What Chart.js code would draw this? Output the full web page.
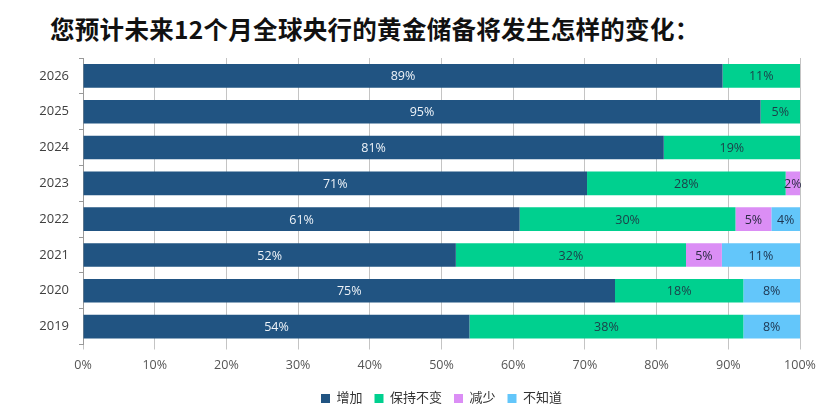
<!DOCTYPE html>
<html>
<head>
<meta charset="utf-8">
<script src="https://cdn.jsdelivr.net/npm/chart.js@4"></script>
<style>
  html, body { margin: 0; padding: 0; background: #fff; }
  #wrap { position: relative; width: 831px; height: 410px; }
  #title {
    position: absolute; left: 50px; top: 14px;
    font: bold 24.5px "Noto Sans CJK SC", sans-serif; color: #111;
    line-height: 1.2; white-space: nowrap; letter-spacing: 0.3px;
  }
  canvas { position: absolute; left: 0; top: 0; }
</style>
</head>
<body>
<div id="wrap">
  <div id="title">您预计未来12个月全球央行的黄金储备将发生怎样的变化：</div>
  <canvas id="c" width="831" height="410"></canvas>
</div>
<script>
// years, top to bottom
const years = ['2026', '2025', '2024', '2023', '2022', '2021', '2020', '2019'];

// bar lengths (share of respondents, %)
const increase  = [89.2, 94.5, 81.0, 70.3, 60.9, 52.0, 74.2, 53.9];
const unchanged = [10.8,  5.5, 19.0, 27.7, 30.1, 32.1, 17.9, 38.2];
const decrease  = [   0,    0,    0,  2.0,  5.0,  5.0,    0,    0];
const unknown   = [   0,    0,    0,    0,  4.0, 10.9,  7.9,  7.9];

// printed labels
const increaseLbl  = ['89%', '95%', '81%', '71%', '61%', '52%', '75%', '54%'];
const unchangedLbl = ['11%', '5%', '19%', '28%', '30%', '32%', '18%', '38%'];
const decreaseLbl  = [null, null, null, '2%', '5%', '5%', null, null];
const unknownLbl   = [null, null, null, null, '4%', '11%', '8%', '8%'];

const xTicks = [0, 10, 20, 30, 40, 50, 60, 70, 80, 90, 100];

const FONT = '"Open Sans", "Noto Sans CJK SC", sans-serif';

const series = [
  { label: '增加',     data: increase,  labels: increaseLbl,  color: '#215482', text: '#eef3f8' },
  { label: '保持不变', data: unchanged, labels: unchangedLbl, color: '#00D08F', text: '#1d3d48' },
  { label: '减少',     data: decrease,  labels: decreaseLbl,  color: '#DB8EF5', text: '#2b2b45' },
  { label: '不知道',   data: unknown,   labels: unknownLbl,   color: '#63C6FA', text: '#1d3550' },
];

// draws the percentage text in the middle of each segment
const barLabels = {
  id: 'barLabels',
  afterDatasetsDraw(chart) {
    const ctx = chart.ctx;
    ctx.save();
    ctx.font = '12.5px ' + FONT;
    ctx.textAlign = 'center';
    ctx.textBaseline = 'middle';
    chart.data.datasets.forEach((ds, i) => {
      const meta = chart.getDatasetMeta(i);
      meta.data.forEach((bar, j) => {
        const txt = series[i].labels[j];
        if (!txt) return;
        const p = bar.getCenterPoint();
        ctx.fillStyle = series[i].text;
        ctx.fillText(txt, p.x, p.y + 1);
      });
    });
    ctx.restore();
  }
};

new Chart(document.getElementById('c'), {
  type: 'bar',
  data: {
    labels: years,
    datasets: series.map(s => ({
      label: s.label,
      data: s.data,
      backgroundColor: s.color,
      borderWidth: 0,
      categoryPercentage: 1,
      barPercentage: 0.66,
    })),
  },
  options: {
    indexAxis: 'y',
    responsive: false,
    animation: false,
    layout: { padding: { top: 58, right: 31, left: 0, bottom: -5 } },
    plugins: {
      legend: {
        position: 'bottom',
        fullSize: false,
        labels: {
          boxWidth: 9, boxHeight: 9,
          padding: 12,
          color: '#333',
          font: { family: FONT, size: 13 },
        },
      },
      tooltip: { enabled: false },
    },
    scales: {
      x: {
        stacked: true,
        min: 0, max: 100,
        afterBuildTicks: s => { s.ticks = xTicks.map(v => ({ value: v })); },
        afterFit: s => { s.height = 35.5; },
        ticks: {
          color: '#555',
          font: { family: FONT, size: 12.5 },
          padding: 8,
          maxRotation: 0,
          callback: v => v + '%',
        },
        grid: { color: '#c4c4c4', tickLength: 5, lineWidth: 1 },
        border: { display: false },
      },
      y: {
        stacked: true,
        afterFit: s => { s.width = 83; },
        ticks: {
          color: '#404040',
          font: { family: FONT, size: 13 },
          padding: 10,
        },
        grid: { drawOnChartArea: false, tickLength: 4, color: '#999' },
        border: { display: true, color: '#999' },
      },
    },
  },
  plugins: [barLabels],
});
</script>
</body>
</html>
